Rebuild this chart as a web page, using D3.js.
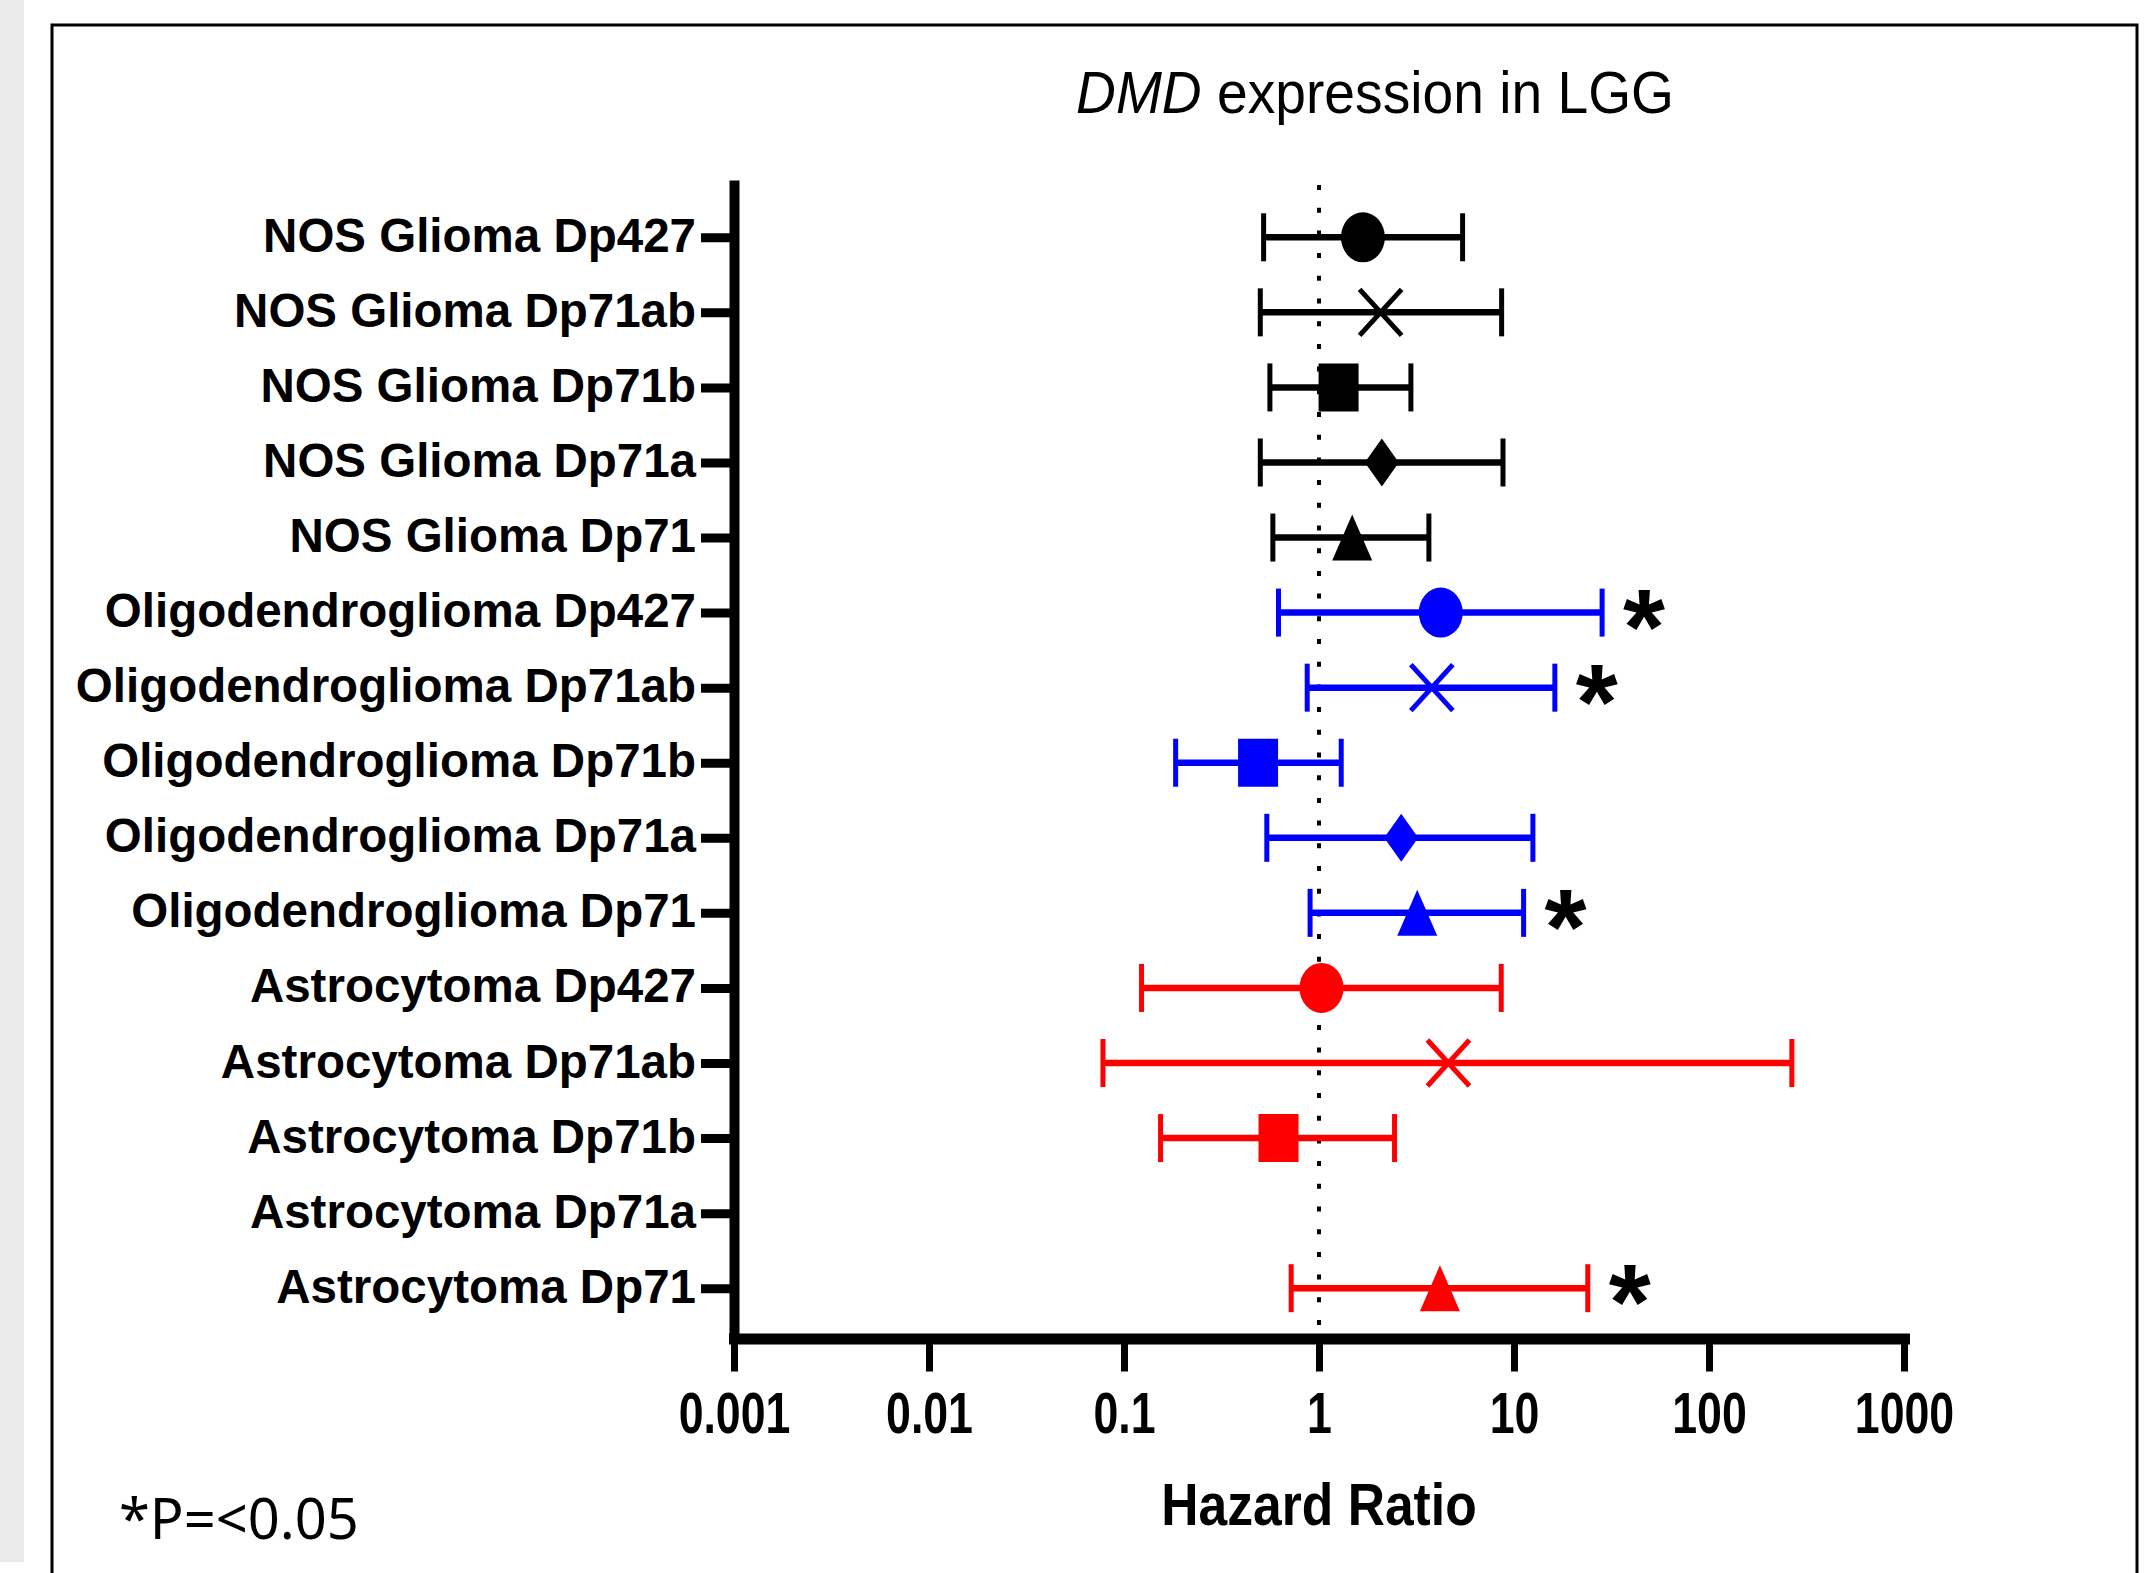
<!DOCTYPE html>
<html>
<head>
<meta charset="utf-8">
<script src="https://cdn.jsdelivr.net/npm/d3@7"></script>
<style>
  body { margin: 0; background: #fff; }
  svg { display: block; }
</style>
</head>
<body>
<svg id="chart"></svg>
<script>
// hazard ratios (95% CI), top row first
var categories = [
    "NOS Glioma Dp427", "NOS Glioma Dp71ab", "NOS Glioma Dp71b", "NOS Glioma Dp71a", "NOS Glioma Dp71",
    "Oligodendroglioma Dp427", "Oligodendroglioma Dp71ab", "Oligodendroglioma Dp71b", "Oligodendroglioma Dp71a", "Oligodendroglioma Dp71",
    "Astrocytoma Dp427", "Astrocytoma Dp71ab", "Astrocytoma Dp71b", "Astrocytoma Dp71a", "Astrocytoma Dp71"
];
var hazardRatio = [1.68, 2.07, 1.26, 2.10, 1.48, 4.21, 3.79, 0.487, 2.64, 3.19, 1.03, 4.61, 0.62, null, 4.17];
var ciLower = [0.52, 0.50, 0.56, 0.50, 0.58, 0.62, 0.87, 0.184, 0.54, 0.90, 0.123, 0.078, 0.154, null, 0.72];
var ciUpper = [5.45, 8.64, 2.96, 8.78, 3.66, 28.3, 16.2, 1.30, 12.5, 11.2, 8.6, 266, 2.44, null, 23.9];
var significant = [false, false, false, false, false, true, true, false, false, true, false, false, false, false, true];

var xTickValues = [0.001, 0.01, 0.1, 1, 10, 100, 1000];
var xTickLabels = ["0.001", "0.01", "0.1", "1", "10", "100", "1000"];

var width = 2151, height = 1573;

// colour by tumour type, marker by isoform
var colourOf = { "NOS Glioma": "#000000", "Oligodendroglioma": "#0000ff", "Astrocytoma": "#ff0000" };
var shapeOf = { "Dp427": "circle", "Dp71ab": "cross", "Dp71b": "square", "Dp71a": "diamond", "Dp71": "triangle" };

var rows = categories.map(function (c, i) {
    var parts = c.split(" ");
    var iso = parts.pop();
    return {
        name: c,
        type: parts.join(" "),
        iso: iso,
        hr: hazardRatio[i],
        lo: ciLower[i],
        hi: ciUpper[i],
        sig: significant[i]
    };
});

var svg = d3.select("#chart")
    .attr("width", width)
    .attr("height", height);

/* page strip and figure frame */
svg.append("rect")
    .attr("x", 0).attr("y", 0)
    .attr("width", 24).attr("height", 1562)
    .attr("fill", "#ebebeb");
svg.append("rect")
    .attr("x", 52).attr("y", 25)
    .attr("width", 2085).attr("height", 1600)
    .attr("fill", "#fff")
    .attr("stroke", "#000")
    .attr("stroke-width", 3);

var x = d3.scaleLog().domain([0.001, 1000]).range([734, 1904]);
var y = d3.scalePoint().domain(categories).range([180, 1339]).padding(0.72).align(0.53);

/* reference line at HR = 1 */
svg.append("line")
    .attr("x1", x(1)).attr("x2", x(1))
    .attr("y1", 185).attr("y2", 1330)
    .attr("stroke", "#000")
    .attr("stroke-width", 4)
    .attr("stroke-dasharray", "5 17.7");

/* axes */
var gx = svg.append("g")
    .attr("transform", "translate(0,1338.5)")
    .call(d3.axisBottom(x)
        .tickValues(xTickValues)
        .tickFormat(function (d, i) { return xTickLabels[i]; })
        .tickSize(33)
        .tickSizeOuter(0));
gx.select(".domain").attr("stroke-width", 11).attr("stroke-linecap", "square");
gx.selectAll(".tick line").attr("stroke-width", 7);
gx.selectAll(".tick text")
    .attr("y", 94.5)
    .attr("dy", null)
    .attr("transform", "scale(0.77,1)")
    .attr("font-family", "'Liberation Sans', Arial, sans-serif")
    .attr("font-weight", "bold")
    .attr("font-size", 58)
    .attr("fill", "#000");

var gy = svg.append("g")
    .attr("transform", "translate(734,0)")
    .call(d3.axisLeft(y)
        .tickSize(33)
        .tickSizeOuter(0)
        .tickPadding(5));
gy.select(".domain").attr("stroke-width", 10);
gy.selectAll(".tick line").attr("stroke-width", 9);
gy.selectAll(".tick text")
    .attr("dy", 14)
    .attr("font-family", "'Liberation Sans', Arial, sans-serif")
    .attr("font-weight", "bold")
    .attr("font-size", 47.5)
    .attr("fill", "#000");

/* error bars */
var data = rows.filter(function (d) { return d.hr != null; });
var bars = svg.append("g").selectAll("g")
    .data(data)
    .enter().append("g")
    .attr("stroke", function (d) { return colourOf[d.type]; });

bars.append("line")
    .attr("x1", function (d) { return x(d.lo); })
    .attr("x2", function (d) { return x(d.hi); })
    .attr("y1", function (d) { return y(d.name); })
    .attr("y2", function (d) { return y(d.name); })
    .attr("stroke-width", 6.5);
["lo", "hi"].forEach(function (k) {
    bars.append("line")
        .attr("x1", function (d) { return x(d[k]); })
        .attr("x2", function (d) { return x(d[k]); })
        .attr("y1", function (d) { return y(d.name) - 24; })
        .attr("y2", function (d) { return y(d.name) + 24; })
        .attr("stroke-width", 5);
});

/* markers */
var markerPath = {
    square: "M-20,-24H20V24H-20Z",
    diamond: "M0,-24L17,0L0,24L-17,0Z",
    triangle: "M0,-23L20,23H-20Z",
    cross: "M-21,-23L21,23M-21,23L21,-23"
};
var marks = svg.append("g").selectAll("g")
    .data(data)
    .enter().append("g")
    .attr("transform", function (d) { return "translate(" + x(d.hr) + "," + y(d.name) + ")"; });
marks.each(function (d) {
    var g = d3.select(this), col = colourOf[d.type], shape = shapeOf[d.iso];
    if (shape === "circle") {
        g.append("ellipse").attr("rx", 22).attr("ry", 25).attr("fill", col);
    } else if (shape === "cross") {
        g.append("path").attr("d", markerPath.cross)
            .attr("fill", "none").attr("stroke", col).attr("stroke-width", 5);
    } else {
        g.append("path").attr("d", markerPath[shape]).attr("fill", col);
    }
});

/* significance stars */
svg.append("g").selectAll("text")
    .data(data.filter(function (d) { return d.sig; }))
    .enter().append("text")
    .attr("x", function (d) { return x(d.hi) + 42; })
    .attr("y", function (d) { return y(d.name) + 51; })
    .attr("text-anchor", "middle")
    .attr("font-family", "'Liberation Sans', Arial, sans-serif")
    .attr("font-weight", "bold")
    .attr("font-size", 108)
    .attr("fill", "#000")
    .text("*");

/* title and axis title */
var title = svg.append("text")
    .attr("transform", "translate(1375,113) scale(0.92,1)")
    .attr("text-anchor", "middle")
    .attr("font-family", "'Liberation Sans', Arial, sans-serif")
    .attr("font-size", 60)
    .attr("fill", "#000");
title.append("tspan").attr("font-style", "italic").text("DMD");
title.append("tspan").text(" expression in LGG");

svg.append("text")
    .attr("transform", "translate(" + x(1) + ",1525) scale(0.86,1)")
    .attr("text-anchor", "middle")
    .attr("font-family", "'Liberation Sans', Arial, sans-serif")
    .attr("font-weight", "bold")
    .attr("font-size", 60)
    .attr("fill", "#000")
    .text("Hazard Ratio");

svg.append("text")
    .attr("x", 119)
    .attr("y", 1539)
    .attr("font-family", "'Noto Sans', sans-serif")
    .attr("font-size", 56)
    .attr("fill", "#000")
    .text("*P=<0.05");
</script>
</body>
</html>
